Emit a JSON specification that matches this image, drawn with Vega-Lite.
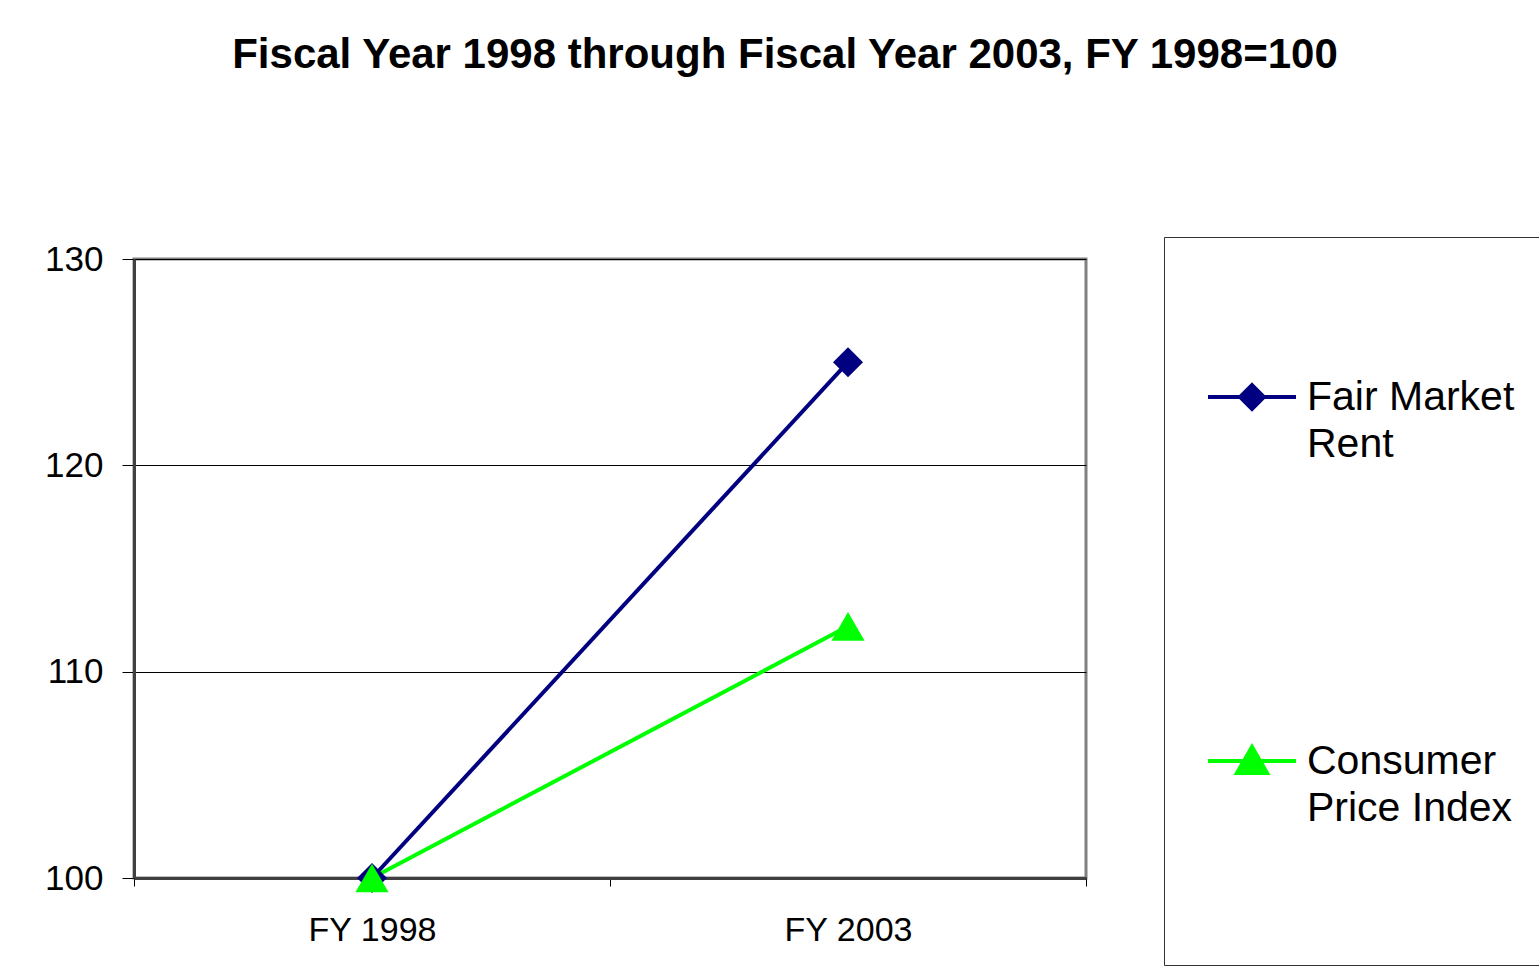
{
  "$schema": "https://vega.github.io/schema/vega-lite/v6.json",
  "width": 952,
  "height": 619,
  "autosize": {"type": "none"},
  "padding": {"left": 134, "top": 259, "right": 453, "bottom": 102},
  "background": "white",
  "title": {
    "text": "Fiscal Year 1998 through Fiscal Year 2003, FY 1998=100",
    "font": "Liberation Sans",
    "fontSize": 42,
    "fontWeight": "bold",
    "color": "black",
    "anchor": "middle",
    "baseline": "alphabetic",
    "dx": 175,
    "offset": 127
  },
  "config": {
    "view": {"stroke": "#808080", "strokeWidth": 3}
  },
  "data": {
    "values": [
      {"year": "FY 1998", "series": "Fair Market Rent", "value": 100},
      {"year": "FY 2003", "series": "Fair Market Rent", "value": 125},
      {"year": "FY 1998", "series": "Consumer Price Index", "value": 100},
      {"year": "FY 2003", "series": "Consumer Price Index", "value": 112.2}
    ]
  },
  "encoding": {
    "x": {
      "field": "year",
      "type": "nominal",
      "scale": {"type": "band", "paddingInner": 0, "paddingOuter": 0},
      "axis": {
        "title": null,
        "labelAngle": 0,
        "tickBand": "extent",
        "tickSize": 8,
        "tickColor": "black",
        "tickWidth": 1,
        "labelPadding": 27,
        "labelFont": "Liberation Sans",
        "labelFontSize": 34,
        "labelColor": "black",
        "domainColor": "#404040",
        "domainWidth": 3,
        "grid": false
      }
    },
    "y": {
      "field": "value",
      "type": "quantitative",
      "scale": {"domain": [100, 130], "nice": false, "zero": false},
      "axis": {
        "title": null,
        "values": [100, 110, 120, 130],
        "tickSize": 12,
        "tickColor": "black",
        "tickWidth": 1,
        "labelPadding": 19,
        "labelFont": "Liberation Sans",
        "labelFontSize": 35,
        "labelColor": "black",
        "domainColor": "#404040",
        "domainWidth": 3,
        "grid": true,
        "gridColor": "black",
        "gridWidth": 1,
        "gridOpacity": 1
      }
    }
  },
  "layer": [
    {
      "mark": {"type": "line", "strokeWidth": 4},
      "encoding": {
        "color": {
          "field": "series",
          "type": "nominal",
          "scale": {"domain": ["Fair Market Rent", "Consumer Price Index"], "range": ["#000080", "#00FF00"]},
          "legend": {
            "orient": "none",
            "legendX": 1030,
            "legendY": -22,
            "title": " ",
            "titleFontSize": 10,
            "titlePadding": 62,
            "padding": 42,
            "strokeColor": "#333333",
            "fillColor": "white",
            "labelFont": "Liberation Sans",
            "labelFontSize": 41,
            "labelColor": "black",
            "labelOffset": 9,
            "labelLimit": 600,
            "symbolSize": 7744,
            "symbolStrokeWidth": 4,
            "rowPadding": 134,
            "labelExpr": "datum.label == 'Fair Market Rent' ? ['', '', 'Fair Market', 'Rent', ''] : ['', '', 'Consumer', 'Price Index', '']",
            "encode": {
              "symbols": {
                "update": {
                  "shape": {"signal": "datum.value == 'Fair Market Rent' ? 'M-1,0H1M0,-0.27L0.27,0L0,0.27L-0.27,0Z' : 'M-1,0H1M0,-0.32L0.34,0.27L-0.34,0.27Z'"},
                  "fill": {"signal": "scale('color', datum.value)"},
                  "stroke": {"signal": "scale('color', datum.value)"},
                  "strokeWidth": {"value": 4},
                  "opacity": {"value": 1}
                }
              },
              "labels": {
                "update": {
                  "dy": {"value": -46.5},
                  "lineHeight": {"value": 47}
                }
              }
            }
          }
        }
      }
    },
    {
      "transform": [{"filter": "datum.series == 'Fair Market Rent'"}],
      "mark": {"type": "point", "shape": "diamond", "filled": true, "size": 900, "opacity": 1, "color": "#000080"}
    },
    {
      "transform": [{"filter": "datum.series == 'Consumer Price Index'"}],
      "mark": {"type": "point", "shape": "triangle-up", "filled": true, "size": 1100, "opacity": 1, "color": "#00FF00"}
    }
  ]
}
